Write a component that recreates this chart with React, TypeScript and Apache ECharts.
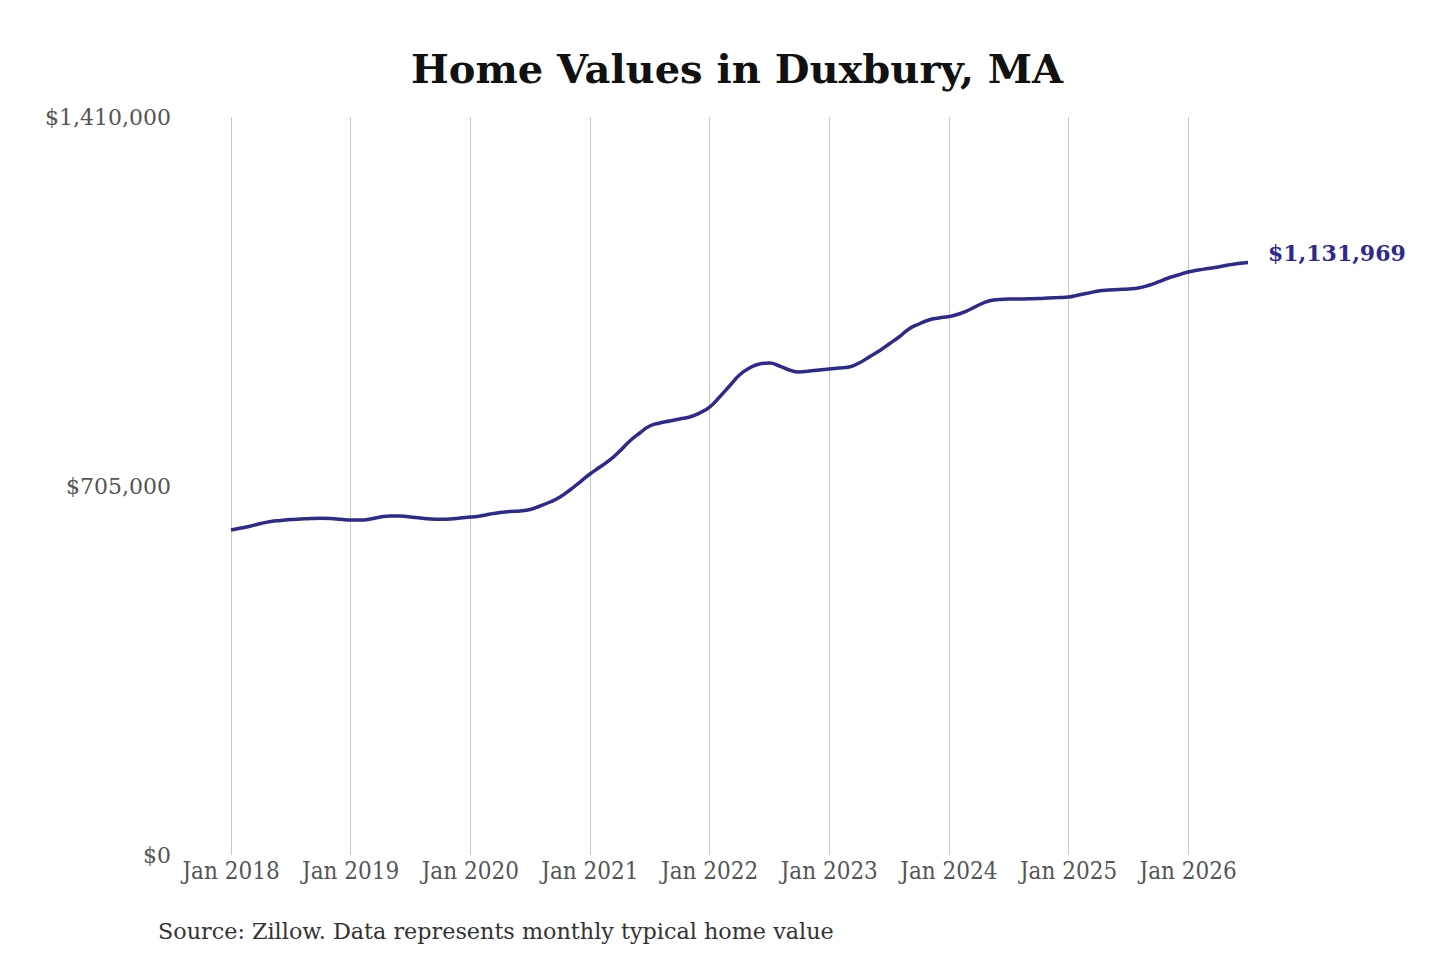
import React, { useEffect, useRef } from "react";
import * as echarts from "echarts";

const TITLE = "Home Values in Duxbury, MA";
const SOURCE = "Source: Zillow. Data represents monthly typical home value";
const START_YEAR = 2018;
const MONTH_NAMES = ["Jan", "Feb", "Mar", "Apr", "May", "Jun", "Jul", "Aug", "Sep", "Oct", "Nov", "Dec"];

const values2018 = [621000, 624800, 628600, 633400, 637200, 639100, 641000, 642000, 642900, 643300, 642900, 641400];
const values2019 = [640000, 640000, 642000, 645800, 647700, 647700, 645800, 643900, 642000, 641400, 642000, 643900];
const values2020 = [645800, 647700, 651500, 654400, 656300, 657200, 660100, 666800, 674400, 684000, 697400, 712600];
const values2021 = [727900, 741300, 754700, 771900, 791000, 806300, 819600, 825400, 829200, 833000, 836800, 844500];
const values2022 = [855900, 875000, 896100, 917100, 930400, 938100, 940000, 934300, 926600, 922800, 924700, 926600];
const values2023 = [928500, 930400, 932400, 940000, 951500, 962900, 976300, 989700, 1005000, 1014500, 1022200, 1026000];
const values2024 = [1028800, 1033600, 1041300, 1050800, 1058500, 1061300, 1062300, 1062300, 1062700, 1063200, 1064200, 1065100];
const values2025 = [1066100, 1069900, 1073700, 1077600, 1079500, 1080400, 1081400, 1083300, 1088100, 1094800, 1102400, 1108100];
const values2026 = [1113900, 1117700, 1120500, 1123400, 1127200, 1130100, 1131969];

const values = [
  ...values2018, ...values2019, ...values2020, ...values2021, ...values2022,
  ...values2023, ...values2024, ...values2025, ...values2026,
];
const months = values.map((_, i) => `${MONTH_NAMES[i % 12]} ${START_YEAR + Math.floor(i / 12)}`);

const Y_MIN = 0;
const Y_MAX = 1410000;
const Y_STEP = 705000;

const FONT_C = "'DejaVu Serif Condensed', 'DejaVu Serif', serif";
const FONT = "'DejaVu Serif', serif";
const LINE_COLOR = "#2d2a8c";

const fmt = (v: number) => "$" + Math.round(v).toLocaleString("en-US");

export default function App() {
  const ref = useRef<HTMLDivElement>(null);
  useEffect(() => {
    document.body.style.margin = "0";
    const chart = echarts.init(ref.current!, null, { renderer: "svg" });
    chart.setOption({
      animation: false,
      backgroundColor: "#ffffff",
      grid: { left: 231, right: 192, top: 117, bottom: 105, containLabel: false },
      graphic: [
        {
          type: "text",
          x: 737,
          y: 68,
          style: {
            text: TITLE,
            fill: "#111111",
            font: `bold 40px ${FONT}`,
            textAlign: "center",
            textVerticalAlign: "middle",
          },
        },
        {
          type: "text",
          x: 158,
          y: 931,
          style: {
            text: SOURCE,
            fill: "#333333",
            font: `22.3px ${FONT}`,
            textAlign: "left",
            textVerticalAlign: "middle",
          },
        },
      ],
      xAxis: {
        type: "category",
        data: months,
        boundaryGap: false,
        axisLine: { show: false },
        axisTick: { show: false },
        axisLabel: {
          interval: (idx: number) => idx % 12 === 0,
          formatter: (v: string) => v,
          color: "#555555",
          fontFamily: FONT_C,
          fontSize: 24,
          margin: 4,
        },
        splitLine: {
          show: true,
          interval: (idx: number) => idx % 12 === 0,
          lineStyle: { color: "#c8c8c8", width: 1 },
        },
      },
      yAxis: {
        type: "value",
        min: Y_MIN,
        max: Y_MAX,
        interval: Y_STEP,
        axisLine: { show: false },
        axisTick: { show: false },
        splitLine: { show: false },
        axisLabel: {
          formatter: (v: number) => fmt(v),
          color: "#555555",
          fontFamily: FONT,
          fontSize: 22,
          margin: 60,
        },
      },
      series: [
        {
          type: "line",
          data: values,
          smooth: true,
          showSymbol: false,
          symbol: "none",
          lineStyle: { color: LINE_COLOR, width: 3.5 },
          endLabel: {
            show: true,
            formatter: (p: any) => fmt(p.value),
            color: LINE_COLOR,
            fontFamily: FONT,
            fontWeight: "bold",
            fontSize: 22,
            distance: 20,
            offset: [0, -10],
          },
        },
      ],
    });
    return () => chart.dispose();
  }, []);
  return <div ref={ref} style={{ width: 1440, height: 960 }} />;
}
